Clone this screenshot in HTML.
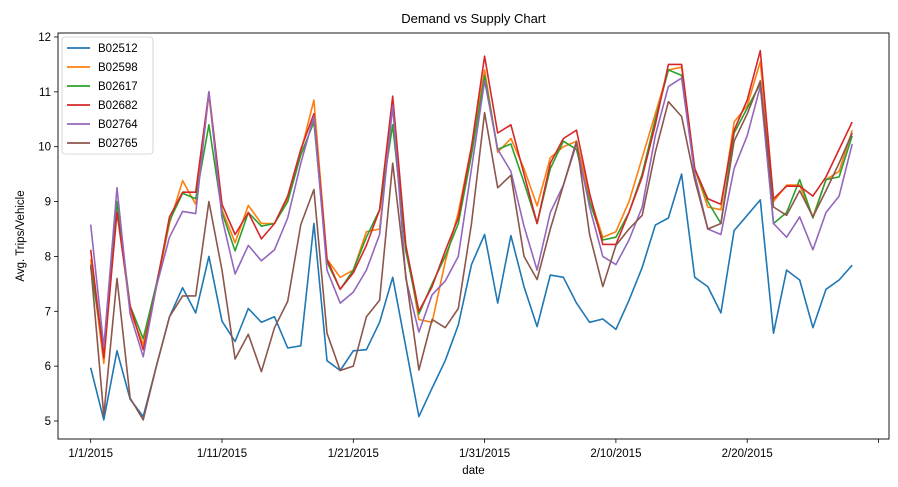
<!DOCTYPE html>
<html><head><meta charset="utf-8"><style>
body{margin:0;background:#fff;}
svg{display:block;font-family:"Liberation Sans","DejaVu Sans",sans-serif;}
</style></head><body>
<svg id="chart" width="898" height="487" viewBox="0 0 898 487"></svg>
<script>
const categories = ['B02512','B02598','B02617','B02682','B02764','B02765'];
const colors = ['#1f77b4','#ff7f0e','#2ca02c','#d62728','#9467bd','#8c564b'];
const xTickLabels = ['1/1/2015','1/11/2015','1/21/2015','1/31/2015','2/10/2015','2/20/2015',''];
const xTickDays = [0,10,20,30,40,50,60];
const yTicks = [5,6,7,8,9,10,11,12];
const s0 = [5.97,5.02,6.28,5.4,5.08,6.0,6.9,7.43,6.97,8.0,6.82,6.45,7.05,6.8,6.9,6.33,6.37,8.6,6.1,5.92,6.28,6.3,6.8,7.62,6.35,5.08,5.6,6.1,6.75,7.85,8.4,7.15,8.38,7.45,6.72,7.66,7.62,7.15,6.8,6.86,6.67,7.2,7.8,8.57,8.7,9.5,7.62,7.45,6.97,8.47,8.75,9.03,6.6,7.75,7.57,6.7,7.4,7.57,7.84];
const s1 = [7.95,6.05,8.9,7.0,6.4,7.45,8.6,9.38,8.95,10.95,8.85,8.25,8.93,8.6,8.6,9.05,9.9,10.85,7.95,7.62,7.75,8.45,8.5,10.75,8.2,6.85,6.8,7.9,8.8,10.0,11.4,9.9,10.15,9.6,8.92,9.8,10.0,10.1,9.1,8.35,8.45,9.0,9.8,10.6,11.4,11.45,9.6,8.9,8.85,10.45,10.75,11.55,9.0,9.3,9.3,8.72,9.4,9.55,10.3];
const s2 = [7.8,6.3,9.0,7.1,6.5,7.5,8.65,9.15,9.05,10.4,8.8,8.1,8.8,8.55,8.6,9.0,9.85,10.45,7.9,7.4,7.75,8.35,8.85,10.4,8.1,6.95,7.5,8.0,8.6,9.85,11.3,9.95,10.05,9.35,8.6,9.6,10.1,9.95,9.0,8.3,8.35,8.8,9.5,10.5,11.4,11.3,9.6,9.0,8.6,10.25,10.7,11.15,8.6,8.8,9.4,8.7,9.4,9.45,10.2];
const s3 = [8.12,6.15,8.8,7.1,6.3,7.45,8.72,9.17,9.17,11.0,8.95,8.4,8.8,8.32,8.6,9.1,9.95,10.6,7.95,7.4,7.7,8.2,8.85,10.92,8.2,7.0,7.45,8.1,8.7,10.0,11.65,10.25,10.4,9.5,8.6,9.7,10.15,10.3,9.15,8.22,8.22,8.8,9.45,10.4,11.5,11.5,9.6,9.05,8.95,10.3,10.85,11.75,9.05,9.28,9.28,9.1,9.45,9.95,10.45];
const s4 = [8.58,6.35,9.25,6.95,6.17,7.45,8.35,8.82,8.78,11.0,8.7,7.68,8.2,7.92,8.12,8.7,9.7,10.55,7.75,7.15,7.35,7.75,8.4,10.75,7.6,6.62,7.3,7.55,8.0,9.6,11.2,9.95,9.55,8.55,7.75,8.8,9.3,10.05,8.9,8.0,7.85,8.3,8.9,10.2,11.1,11.25,9.5,8.5,8.4,9.6,10.2,11.1,8.6,8.35,8.72,8.12,8.8,9.1,10.05];
const s5 = [7.85,5.1,7.6,5.42,5.02,6.0,6.9,7.28,7.28,9.0,7.75,6.13,6.58,5.9,6.7,7.18,8.58,9.22,6.6,5.92,6.0,6.9,7.2,9.7,7.65,5.93,6.85,6.7,7.05,8.6,10.62,9.25,9.48,8.0,7.58,8.5,9.3,10.1,8.4,7.45,8.2,8.5,8.75,9.9,10.82,10.55,9.4,8.5,8.6,10.1,10.6,11.2,8.9,8.75,9.2,8.72,9.2,9.7,10.25];
const series = [s0,s1,s2,s3,s4,s5];

const svg = document.getElementById('chart');
const NS = 'http://www.w3.org/2000/svg';
const L=58,R=889,T=33,B=439;
const xs = d => 90.7 + d*13.13;
const ys = v => 421 - (v-5)*54.86;
function mk(tag, attrs, parent){const e=document.createElementNS(NS,tag);for(const k in attrs)e.setAttribute(k,attrs[k]);(parent||svg).appendChild(e);return e;}

const title = mk('text',{x:(L+R)/2,y:23,'text-anchor':'middle','font-size':13,fill:'#000'});


title.textContent='Demand vs Supply Chart';

series.forEach((s,i)=>{
  const p = mk('polyline',{points:s.map((v,d)=>xs(d).toFixed(1)+','+ys(v).toFixed(1)).join(' '),fill:'none',stroke:colors[i],'stroke-width':1.6,'stroke-linejoin':'round'});
  
  
});

const frame = mk('rect',{x:L,y:T,width:R-L,height:B-T,fill:'none',stroke:'#000','stroke-width':0.9});



yTicks.forEach(v=>{
  mk('line',{x1:L-4,x2:L,y1:ys(v),y2:ys(v),stroke:'#000','stroke-width':0.8});
  const t = mk('text',{x:L-7,y:ys(v)+4,'text-anchor':'end','font-size':11.5,fill:'#000'});
  
  
  t.textContent=v;
});
xTickDays.forEach((d,i)=>{
  mk('line',{x1:xs(d),x2:xs(d),y1:B,y2:B+4,stroke:'#000','stroke-width':0.8});
  const t = mk('text',{x:xs(d),y:B+18,'text-anchor':'middle','font-size':11.5,fill:'#000'});
  
  
  t.textContent=xTickLabels[i];
});
const xt = mk('text',{x:(L+R)/2,y:474,'text-anchor':'middle','font-size':11.5,fill:'#000'});


xt.textContent='date';
const yt = mk('text',{x:0,y:0,'text-anchor':'middle','font-size':11.5,fill:'#000',transform:'translate(24,236) rotate(-90)'});


yt.textContent='Avg. Trips/Vehicle';

const lg = mk('g',{});


mk('rect',{x:62,y:37,width:91,height:117,rx:3,fill:'#fff',stroke:'#ccc','stroke-width':0.8},lg);
categories.forEach((c,i)=>{
  const y = 48 + i*19;
  const g = mk('g',{},lg);
  
  
  mk('line',{x1:67,x2:90,y1:y,y2:y,stroke:colors[i],'stroke-width':1.8},g);
  const t = mk('text',{x:98,y:y+4,'font-size':11.5,fill:'#000'},g);
  t.textContent=c;
});
</script>
</body></html>
